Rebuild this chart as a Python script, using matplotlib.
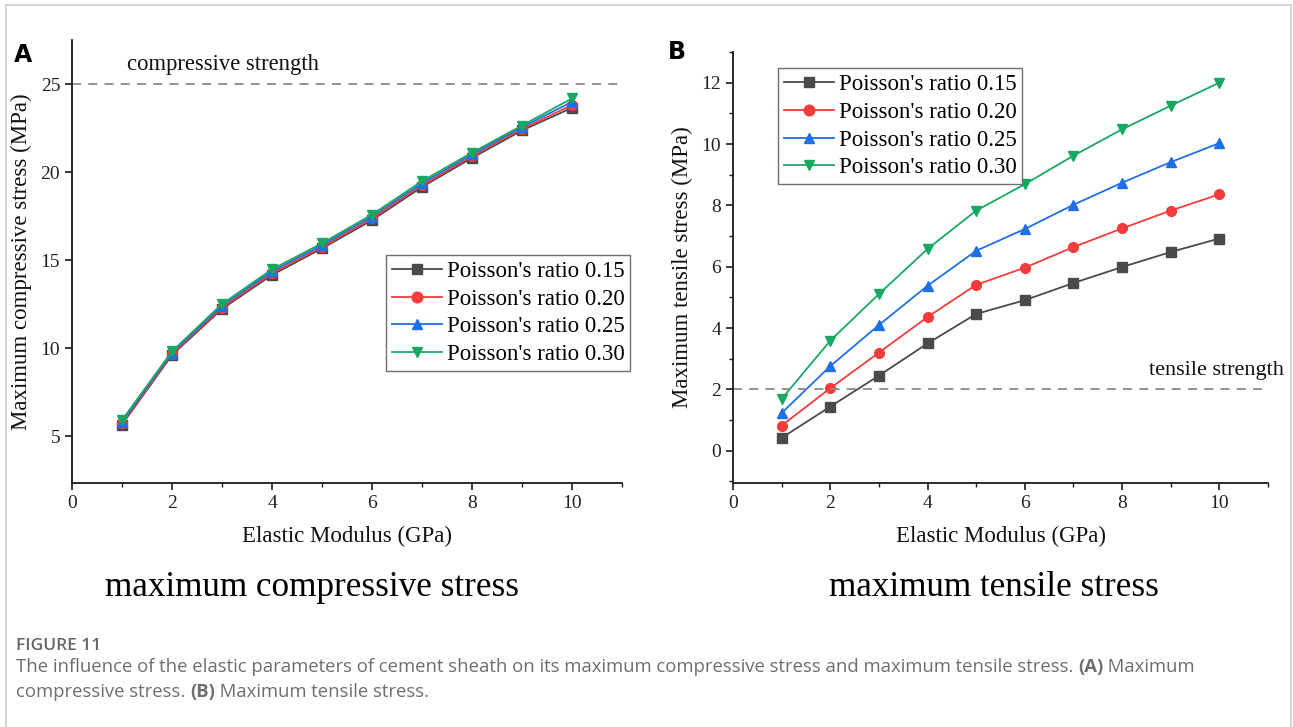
import matplotlib
matplotlib.use("Agg")
import matplotlib.pyplot as plt
from matplotlib.lines import Line2D
from matplotlib.ticker import MultipleLocator

plt.rcParams['font.family'] = ['Liberation Serif', 'DejaVu Serif']

# ---------------- data ----------------
modulus = [1, 2, 3, 4, 5, 6, 7, 8, 9, 10]
labels = ["Poisson's ratio 0.15", "Poisson's ratio 0.20",
          "Poisson's ratio 0.25", "Poisson's ratio 0.30"]

comp_015 = [5.65, 9.60, 12.22, 14.15, 15.66, 17.26, 19.15, 20.80, 22.36, 23.65]
comp_020 = [5.72, 9.66, 12.30, 14.25, 15.75, 17.36, 19.25, 20.90, 22.45, 23.80]
comp_025 = [5.80, 9.73, 12.40, 14.36, 15.85, 17.47, 19.36, 21.00, 22.55, 23.98]
comp_030 = [5.90, 9.81, 12.50, 14.47, 15.95, 17.58, 19.48, 21.10, 22.64, 24.18]

tens_015 = [0.42, 1.44, 2.45, 3.50, 4.46, 4.91, 5.47, 5.99, 6.48, 6.92]
tens_020 = [0.82, 2.04, 3.20, 4.36, 5.41, 5.97, 6.64, 7.25, 7.83, 8.36]
tens_025 = [1.23, 2.76, 4.10, 5.38, 6.52, 7.23, 8.02, 8.74, 9.41, 10.03]
tens_030 = [1.69, 3.59, 5.11, 6.58, 7.83, 8.69, 9.62, 10.48, 11.25, 12.00]

compressive_strength = 25
tensile_strength = 2

colors = ['#4a4a4a', '#f43c3c', '#1f6fe6', '#17a862']
markers = ['s', 'o', '^', 'v']

W, H = 1293, 727
fig = plt.figure(figsize=(W / 100, H / 100), dpi=100)

def fx(px):
    return px / W

def fy(py):
    return 1 - py / H

def style_axes(ax):
    for s in ['top', 'right']:
        ax.spines[s].set_visible(False)
    for s in ['left', 'bottom']:
        ax.spines[s].set_linewidth(1.3)
        ax.spines[s].set_color('#1a1a1a')
    ax.tick_params(which='major', direction='out', length=5, width=1.2,
                   labelsize=14, colors='#1a1a1a', labelcolor='#222222')
    ax.tick_params(which='minor', direction='out', length=3, width=1.0,
                   colors='#1a1a1a')
    ax.xaxis.set_major_locator(MultipleLocator(2))
    ax.xaxis.set_minor_locator(MultipleLocator(1))
    ax.set_xlim(0, 11)

leg_kw = dict(loc='upper left', fontsize=16.5, frameon=True, fancybox=False,
              edgecolor='#707070', framealpha=1, handlelength=2.2, handletextpad=0.2,
              borderpad=0.25, labelspacing=0.3, borderaxespad=0, markerscale=1.1)

# ---------------- panel A ----------------
axA = fig.add_axes([fx(72), fy(483), fx(622 - 72), (483 - 40) / H])
style_axes(axA)
axA.set_ylim(2.33, 27.5)
axA.yaxis.set_major_locator(MultipleLocator(5))
for vals, c, m, lab in zip([comp_015, comp_020, comp_025, comp_030], colors, markers, labels):
    axA.plot(modulus, vals, color=c, marker=m, markersize=7, lw=1.3, label=lab)
axA.axhline(compressive_strength, color='#8a8a8a', lw=1.3, ls=(0, (5, 4)))
axA.text(1.1, 26.1, 'compressive strength', fontsize=16.3, va='center', ha='left', color='#111111')
axA.set_xlabel('Elastic Modulus (GPa)', fontsize=16.5, labelpad=10, color='#111111')
axA.set_ylabel('Maximum compressive stress (MPa)', fontsize=16.5, labelpad=6, color='#111111')
legA = axA.legend(bbox_to_anchor=(0.571, 0.515), **leg_kw)
legA.get_frame().set_linewidth(1.0)

# ---------------- panel B ----------------
axB = fig.add_axes([fx(733), fy(483), fx(1268 - 733), (483 - 52) / H])
style_axes(axB)
axB.set_ylim(-1.05, 13.0)
axB.yaxis.set_major_locator(MultipleLocator(2))
axB.yaxis.set_minor_locator(MultipleLocator(1))
for vals, c, m, lab in zip([tens_015, tens_020, tens_025, tens_030], colors, markers, labels):
    axB.plot(modulus, vals, color=c, marker=m, markersize=7, lw=1.3, label=lab)
axB.axhline(tensile_strength, color='#8a8a8a', lw=1.3, ls=(0, (5, 4)))
axB.text(8.56, 2.62, 'tensile strength', fontsize=16, va='center', ha='left', color='#111111',
         clip_on=False)
axB.set_xlabel('Elastic Modulus (GPa)', fontsize=16.5, labelpad=10, color='#111111')
axB.set_ylabel('Maximum tensile stress (MPa)', fontsize=16.5, labelpad=6, color='#111111')
legB = axB.legend(bbox_to_anchor=(0.084, 0.963), **leg_kw)
legB.get_frame().set_linewidth(1.0)

# panel letters
fig.text(fx(14), fy(55), 'A', fontsize=17, fontweight='bold', family='DejaVu Sans',
         va='center', ha='left')
fig.text(fx(668), fy(52), 'B', fontsize=17, fontweight='bold', family='DejaVu Sans',
         va='center', ha='left')

# sub-titles
fig.text(fx(312), fy(588), 'maximum compressive stress', fontsize=25.3, ha='center', va='center')
fig.text(fx(994), fy(588), 'maximum tensile stress', fontsize=25.3, ha='center', va='center')

# border
for (x0, y0, x1, y1) in [(6, 5, 1291, 5), (6, 5, 6, 727), (1291, 5, 1291, 727)]:
    fig.add_artist(Line2D([fx(x0), fx(x1)], [fy(y0), fy(y1)], color='#cfcfcf', lw=1.2))

# caption
cap_color = '#6e6e6e'
fig.text(fx(16), fy(646), 'FIGURE 11', fontsize=12.5, family='Open Sans', fontweight='semibold',
         color='#666666', va='center', ha='left')

renderer = fig.canvas.get_renderer()

def write_line(pieces, x_px, y_px):
    x = x_px
    for txt, bold in pieces:
        t = fig.text(fx(x), fy(y_px), txt, fontsize=13.3, family='Open Sans',
                     fontweight='bold' if bold else 'normal', color=cap_color,
                     va='center', ha='left')
        bb = t.get_window_extent(renderer=renderer)
        x += bb.width

write_line([("The influence of the elastic parameters of cement sheath on its maximum compressive "
             "stress and maximum tensile stress. ", False), ("(A)", True), (" Maximum", False)],
           16, 667)
write_line([("compressive stress. ", False), ("(B)", True), (" Maximum tensile stress.", False)],
           16, 692)

fig.savefig('out.png', dpi=100)
